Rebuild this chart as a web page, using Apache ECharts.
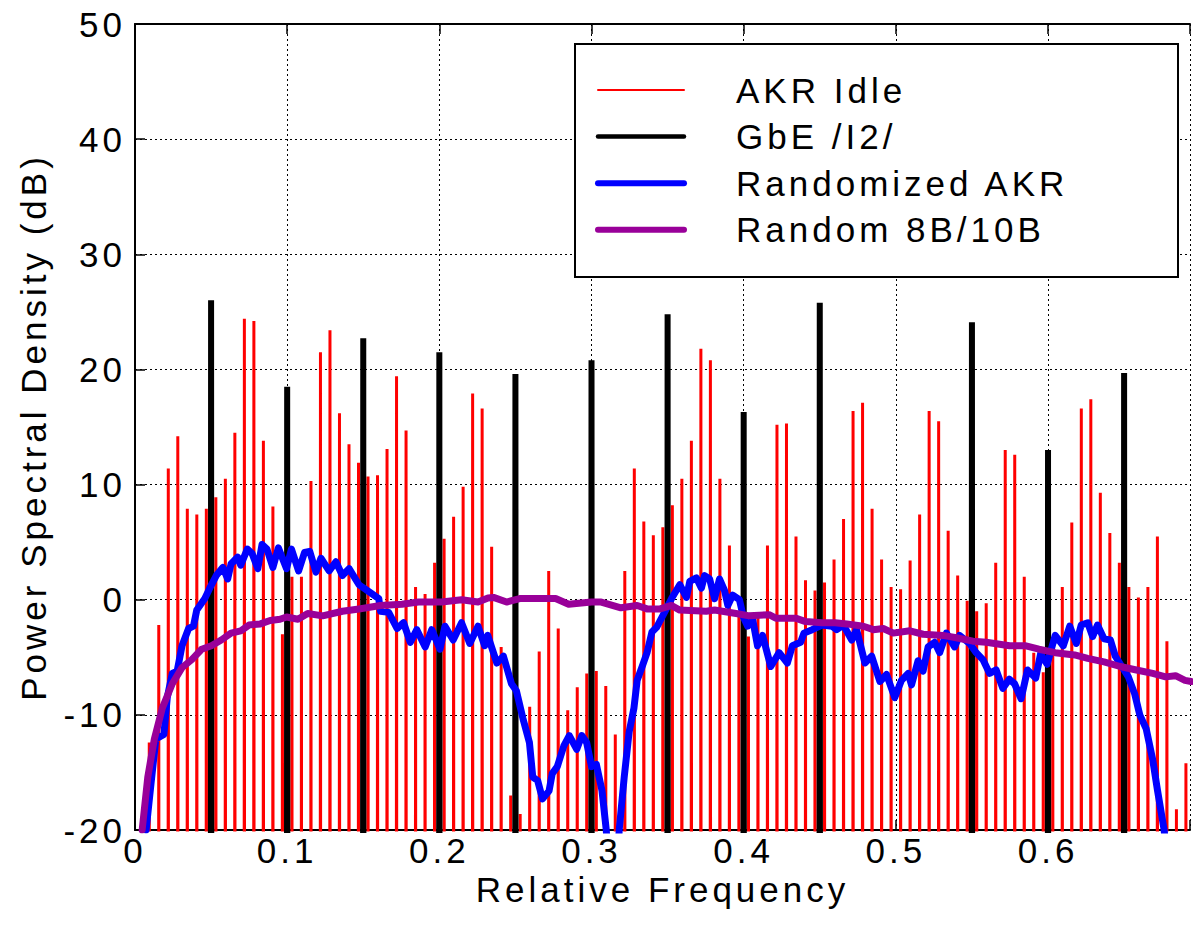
<!DOCTYPE html>
<html>
<head>
<meta charset="utf-8">
<title>Power Spectral Density</title>
<script src="https://cdn.jsdelivr.net/npm/echarts@6/dist/echarts.min.js"></script>
<style>
  html, body { margin: 0; padding: 0; background: #fff; }
  #chart { width: 1193px; height: 930px; }
  #chart text { letter-spacing: 4px; }
</style>
</head>
<body>
<div id="chart"></div>
<script>
// ---- AKR Idle: line spectrum, one peak per bin, bins centred at (k + 0.5) * AKR_BIN ----
const AKR_BIN = 1 / 160;
const akrIdleDb = [
  null, -12.4, -2.2, 11.4, 14.2, 7.9, 7.4, 7.9, 8.9, 10.5,
  14.5, 24.4, 24.2, 13.8, 8.1, -3.0, 2.0, 2.0, 10.3, 21.5,
  23.4, 16.2, 13.5, 11.9, 10.7, 10.8, 13.1, 19.4, 14.7, 1.1,
  0.5, 3.2, 5.3, 7.2, 9.8, 17.9, 16.6, 4.6, -4.1, -17.0,
  -18.6, -9.3, -4.5, 2.5, -2.5, -9.6, -7.6, -6.4, -6.2, -7.5,
  -11.7, 2.5, 11.4, 6.8, 5.6, 6.3, 8.2, 10.5, 13.8, 21.8,
  20.8, 10.5, 4.7, -1.0, -3.2, -1.5, 4.7, 15.2, 15.3, 5.5,
  1.7, 0.8, 1.5, 3.5, 7.0, 16.4, 17.1, 7.9, 3.5, 1.1,
  0.9, 3.4, 7.4, 16.4, 15.5, 6.0, 2.1, -0.1, -1.0, -0.3,
  3.2, 13.0, 12.6, 2.0, -4.6, -6.3, -4.0, 1.1, 6.7, 16.6,
  17.4, 9.3, 5.8, 3.2, 1.1, 0.2, 1.1, 5.5, -3.6, -18.2,
  -14.2
];

// ---- GbE /I2/ idle: strong lines every 0.05 ----
const gbeFreq = [0.05, 0.10, 0.15, 0.20, 0.25, 0.30, 0.35, 0.40, 0.45, 0.55, 0.60, 0.65];
const gbeDb   = [26.0, 18.5, 22.7, 21.5, 19.6, 20.8, 24.8, 16.3, 25.8, 24.1, 13.0, 19.7];

// ---- Randomized AKR ----
const randAkrFreq = [
  0.0073, 0.0105, 0.0137, 0.0190, 0.0212, 0.0245, 0.0277, 0.0309, 0.0352, 0.0384,
  0.0406, 0.0459, 0.0491, 0.0534, 0.0577, 0.0609, 0.0631, 0.0674, 0.0695, 0.0738,
  0.0770, 0.0807, 0.0835, 0.0867, 0.0906, 0.0942, 0.0996, 0.1028, 0.1075, 0.1114,
  0.1148, 0.1189, 0.1222, 0.1276, 0.1320, 0.1363, 0.1407, 0.1472, 0.1537, 0.1602,
  0.1613, 0.1667, 0.1722, 0.1765, 0.1809, 0.1852, 0.1907, 0.1950, 0.2004, 0.2037,
  0.2091, 0.2146, 0.2200, 0.2254, 0.2298, 0.2318, 0.2378, 0.2421, 0.2474, 0.2506,
  0.2549, 0.2592, 0.2614, 0.2646, 0.2678, 0.2721, 0.2742, 0.2775, 0.2818, 0.2854,
  0.2903, 0.2936, 0.2968, 0.3000, 0.3032, 0.3069, 0.3097, 0.3120, 0.3160, 0.3182,
  0.3215, 0.3247, 0.3279, 0.3300, 0.3333, 0.3365, 0.3397, 0.3428, 0.3472, 0.3526,
  0.3580, 0.3624, 0.3646, 0.3689, 0.3722, 0.3743, 0.3776, 0.3809, 0.3841, 0.3874,
  0.3896, 0.3928, 0.3972, 0.3998, 0.4026, 0.4059, 0.4091, 0.4124, 0.4178, 0.4233,
  0.4287, 0.4320, 0.4374, 0.4396, 0.4450, 0.4515, 0.4580, 0.4611, 0.4655, 0.4710,
  0.4742, 0.4797, 0.4841, 0.4895, 0.4939, 0.4993, 0.5037, 0.5081, 0.5103, 0.5146,
  0.5179, 0.5212, 0.5255, 0.5288, 0.5332, 0.5386, 0.5419, 0.5485, 0.5528, 0.5572,
  0.5616, 0.5659, 0.5703, 0.5745, 0.5780, 0.5823, 0.5865, 0.5919, 0.5951, 0.5994,
  0.6047, 0.6100, 0.6143, 0.6186, 0.6218, 0.6261, 0.6293, 0.6325, 0.6368, 0.6410,
  0.6442, 0.6485, 0.6528, 0.6570, 0.6603, 0.6645, 0.6688, 0.6720, 0.6763, 0.6780
];
const randAkrDb = [
  -20.0, -16.0, -12.1, -11.7, -8.5, -6.4, -6.2, -4.0, -2.5, -2.3,
  -0.9, 0.1, 1.0, 2.1, 2.8, 1.8, 3.1, 3.7, 3.0, 4.4,
  4.0, 2.7, 4.8, 4.4, 2.8, 4.5, 2.7, 4.4, 2.5, 4.1,
  4.2, 2.4, 3.6, 2.5, 3.3, 2.1, 2.7, 1.3, 0.7, 0.1,
  -1.0, -1.1, -2.5, -2.0, -3.7, -2.6, -4.1, -2.6, -4.3, -2.3,
  -3.5, -2.0, -3.8, -2.3, -4.0, -3.1, -5.5, -4.9, -7.3, -7.9,
  -10.3, -12.4, -15.4, -15.7, -17.3, -16.6, -15.1, -14.5, -12.7, -11.8,
  -13.0, -11.8, -12.4, -14.5, -14.3, -16.6, -20.0, -25.0, -25.0, -20.0,
  -15.4, -11.5, -9.4, -7.0, -5.8, -4.6, -2.8, -2.4, -1.3, 0.1,
  1.3, 0.2, 1.6, 1.9, 1.0, 2.1, 1.8, 0.1, 1.8, 0.8,
  -0.5, 0.4, 0.0, -1.5, -2.3, -1.7, -4.0, -3.1, -5.8, -4.6,
  -5.5, -4.0, -3.7, -2.9, -2.6, -2.2, -2.3, -2.6, -2.2, -3.5,
  -2.6, -5.5, -4.9, -7.1, -6.5, -8.5, -7.0, -6.4, -7.4, -5.3,
  -6.2, -4.1, -3.7, -4.6, -2.9, -4.1, -3.1, -3.8, -4.6, -5.2,
  -6.4, -6.1, -7.7, -6.9, -7.3, -8.6, -6.1, -6.8, -4.7, -5.6,
  -3.1, -4.0, -2.3, -3.8, -2.2, -2.0, -3.2, -2.2, -3.4, -3.5,
  -4.9, -5.8, -6.7, -8.2, -10.0, -11.2, -13.9, -16.6, -20.0, -22.0
];

// ---- Random 8B/10B ----
const rand8b10bFreq = [
  0.0047, 0.0084, 0.0127, 0.0180, 0.0245, 0.0309, 0.0373, 0.0438, 0.0502, 0.0567,
  0.0631, 0.0695, 0.0749, 0.0824, 0.0888, 0.0953, 0.0996, 0.1071, 0.1135, 0.1233,
  0.1363, 0.1472, 0.1613, 0.1754, 0.1863, 0.2015, 0.2146, 0.2254, 0.2320, 0.2356,
  0.2442, 0.2528, 0.2614, 0.2764, 0.2850, 0.3000, 0.3064, 0.3193, 0.3300, 0.3365,
  0.3451, 0.3526, 0.3580, 0.3754, 0.3809, 0.3950, 0.4037, 0.4167, 0.4211, 0.4341,
  0.4407, 0.4515, 0.4602, 0.4677, 0.4786, 0.4852, 0.4917, 0.4983, 0.5092, 0.5179,
  0.5310, 0.5397, 0.5507, 0.5594, 0.5747, 0.5855, 0.5940, 0.6047, 0.6175, 0.6261,
  0.6368, 0.6474, 0.6581, 0.6688, 0.6773, 0.6838, 0.6900, 0.6940
];
const rand8b10bDb = [
  -20.0, -15.4, -12.1, -9.4, -7.3, -5.9, -5.2, -4.3, -4.0, -3.5,
  -2.9, -2.7, -2.2, -2.1, -1.8, -1.7, -1.5, -1.7, -1.2, -1.4,
  -1.0, -0.8, -0.5, -0.4, -0.2, -0.2, 0.0, -0.2, 0.15, 0.2,
  -0.2, 0.1, 0.1, 0.1, -0.4, -0.2, -0.2, -0.7, -0.5, -0.8,
  -0.8, -0.5, -0.9, -1.0, -0.9, -1.2, -1.4, -1.3, -1.6, -1.6,
  -1.9, -2.0, -2.0, -2.1, -2.3, -2.6, -2.5, -2.9, -2.7, -3.0,
  -3.1, -3.3, -3.6, -3.7, -4.0, -4.0, -4.3, -4.6, -4.8, -5.1,
  -5.4, -5.8, -6.1, -6.4, -6.7, -6.6, -7.0, -7.1
];

// Axis ticks
const xTicks = [0, 0.1, 0.2, 0.3, 0.4, 0.5, 0.6];
const yTicks = [-20, -10, 0, 10, 20, 30, 40, 50];

const FONT = "'Liberation Sans', Arial, Helvetica, sans-serif";
const FLOOR_DB = -60;          // spectral floor between lines (below the visible range)
const LINE_HALF_WIDTH = 0.0002; // half width of a spectral line, in relative frequency

// Turn a list of line frequencies/levels into a spiky trace rising from the floor.
function lineSpectrum(freqs, levels) {
  const pts = [];
  freqs.forEach((f, i) => {
    const v = levels[i];
    if (v == null) return;
    pts.push([f - LINE_HALF_WIDTH, FLOOR_DB], [f, v], [f + LINE_HALF_WIDTH, FLOOR_DB]);
  });
  return pts;
}
const zip = (a, b) => a.map((v, i) => [v, b[i]]);

const akrFreq = akrIdleDb.map((_, k) => (k + 0.5) * AKR_BIN);

const X_MIN = xTicks[0];
const X_MAX = 0.6933;
const Y_MIN = yTicks[0];
const Y_MAX = yTicks[yTicks.length - 1];
const tickFmt = v => {
  const r = Math.round(v * 10) / 10;
  return Math.abs(v - r) < 1e-9 ? String(r) : '';
};

const dotted = { color: '#000', width: 1, type: [2, 3] };
const textBase = { fontFamily: FONT, fontSize: 35, color: '#000' };

const chart = echarts.init(document.getElementById('chart'), null, { renderer: 'svg' });
chart.setOption({
  animation: false,
  backgroundColor: '#fff',
  grid: { left: 135, top: 24, right: -2, bottom: 100, containLabel: false },
  xAxis: [
    {
      type: 'value', position: 'bottom', min: X_MIN, max: X_MAX, interval: 0.1,
      axisLine: { show: true, onZero: false, lineStyle: { color: '#000', width: 2 } },
      axisTick: { show: true, inside: true, length: 10, lineStyle: { color: '#000', width: 1.5 } },
      axisLabel: Object.assign({ margin: 7, lineHeight: 26, formatter: tickFmt, hideOverlap: false }, textBase),
      splitLine: { show: true, lineStyle: dotted },
      name: 'Relative Frequency', nameLocation: 'middle', nameGap: 46, nameMoveOverlap: false,
      nameTextStyle: Object.assign({ lineHeight: 26 }, textBase)
    },
    {
      type: 'value', position: 'top', min: X_MIN, max: X_MAX, interval: 0.1,
      axisLine: { show: true, onZero: false, lineStyle: { color: '#000', width: 2 } },
      axisTick: { show: true, inside: true, length: 10, lineStyle: { color: '#000', width: 1.5 } },
      axisLabel: { show: false },
      splitLine: { show: false }
    }
  ],
  yAxis: {
    type: 'value', min: Y_MIN, max: Y_MAX, interval: 10,
    axisLine: { show: true, onZero: false, lineStyle: { color: '#000', width: 2 } },
    axisTick: { show: true, inside: true, length: 10, lineStyle: { color: '#000', width: 1.5 } },
    axisLabel: Object.assign({ margin: 9 }, textBase),
    splitLine: { show: true, lineStyle: dotted },
    name: 'Power Spectral Density (dB)', nameLocation: 'middle', nameGap: 84, nameRotate: 90,
    nameMoveOverlap: false,
    nameTextStyle: textBase
  },
  legend: {
    orient: 'vertical', left: 595, top: 72, padding: 0,
    itemWidth: 86, itemHeight: 14, itemGap: 10.6,
    selectedMode: false,
    itemStyle: { color: 'rgba(0,0,0,0)', borderColor: 'rgba(0,0,0,0)', borderWidth: 0, opacity: 0 },
    textStyle: Object.assign({ padding: [0, 0, 0, 47], lineHeight: 36 }, textBase),
    data: [
      { name: 'AKR Idle', lineStyle: { width: 2, cap: 'round' } },
      { name: 'GbE /I2/', lineStyle: { width: 4.5, cap: 'round' } },
      { name: 'Randomized AKR', lineStyle: { width: 6, cap: 'round' } },
      { name: 'Random 8B/10B', lineStyle: { width: 6, cap: 'round' } }
    ]
  },
  graphic: [{
    type: 'rect', z: 3,
    shape: { x: 575, y: 44, width: 603, height: 233 },
    style: { fill: '#fff', stroke: '#000', lineWidth: 2 }
  }],
  series: [
    {
      name: 'AKR Idle', type: 'line', symbol: 'none', clip: true, z: 2,
      data: lineSpectrum(akrFreq, akrIdleDb),
      lineStyle: { color: '#ff0000', width: 3 }, itemStyle: { color: '#ff0000' }
    },
    {
      name: 'GbE /I2/', type: 'line', symbol: 'none', clip: true, z: 2,
      data: lineSpectrum(gbeFreq, gbeDb),
      lineStyle: { color: '#000000', width: 6 }, itemStyle: { color: '#000000' }
    },
    {
      name: 'Randomized AKR', type: 'line', symbol: 'none', clip: true, z: 2,
      data: zip(randAkrFreq, randAkrDb),
      lineStyle: { color: '#0000ff', width: 7, cap: 'round', join: 'round' }, itemStyle: { color: '#0000ff' }
    },
    {
      name: 'Random 8B/10B', type: 'line', symbol: 'none', clip: true, z: 2,
      data: zip(rand8b10bFreq, rand8b10bDb),
      lineStyle: { color: '#990099', width: 7, cap: 'round', join: 'round' }, itemStyle: { color: '#990099' }
    }
  ]
});
</script>
</body>
</html>
